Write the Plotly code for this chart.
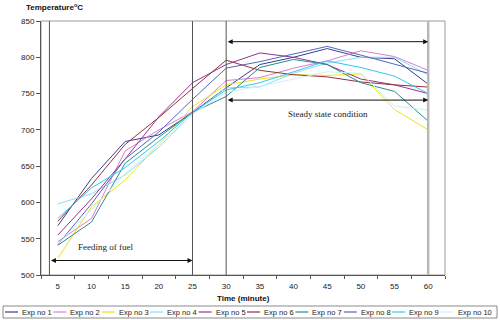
import plotly.graph_objects as go

# ---- data ----
minutes = [5, 10, 15, 20, 25, 30, 35, 40, 45, 50, 55, 60]
series_names = ["Exp no 1", "Exp no 2", "Exp no 3", "Exp no 4", "Exp no 5",
                "Exp no 6", "Exp no 7", "Exp no 8", "Exp no 9", "Exp no 10"]
exp1 = [568, 633, 684, 693, 724, 758, 790, 800, 812, 800, 798, 763]
exp2 = [546, 578, 671, 700, 725, 768, 772, 785, 795, 809, 801, 782]
exp3 = [523, 594, 631, 680, 732, 762, 770, 776, 775, 777, 728, 700]
exp4 = [598, 612, 638, 676, 722, 758, 759, 778, 792, 800, 800, 776]
exp5 = [555, 605, 660, 718, 765, 790, 806, 800, 790, 770, 762, 750]
exp6 = [574, 624, 680, 717, 757, 796, 782, 776, 773, 766, 762, 759]
exp7 = [541, 573, 654, 690, 724, 746, 786, 797, 790, 765, 753, 712]
exp8 = [542, 598, 660, 697, 742, 785, 794, 805, 815, 803, 791, 778]
exp9 = [578, 620, 648, 684, 724, 755, 765, 780, 795, 786, 774, 750]
exp10 = [543, 590, 640, 680, 722, 752, 760, 770, 780, 778, 733, 727]
all_series = [exp1, exp2, exp3, exp4, exp5, exp6, exp7, exp8, exp9, exp10]
x_tick_labels = ["5", "10", "15", "20", "25", "30", "35", "40", "45", "50", "55", "60"]
y_ticks = [500, 550, 600, 650, 700, 750, 800, 850]

# phase markers (minutes) and annotation levels (°C)
phase_lines = [3.75, 25, 30]
end_line = 60
feeding_span = (3.75, 25, 520)
steady_spans = [(30, 60, 821.5), (30, 60, 741)]

# ---- styles ----
colors = ["#34418f", "#e07ad0", "#f0e21a", "#86e2f4", "#9b2f96",
          "#9a2f3a", "#268c8c", "#5566bb", "#35c8ee", "#cdeff8"]
SANS = "Liberation Sans, Arial, sans-serif"
SERIF = "Liberation Serif, Times New Roman, serif"

fig = go.Figure()
for name, vals, col in zip(series_names, all_series, colors):
    fig.add_trace(go.Scatter(x=minutes, y=vals, mode="lines", name=name,
                             line=dict(color=col, width=1), showlegend=False))

shapes = []
# plot frame
shapes.append(dict(type="rect", xref="paper", yref="paper", x0=0, x1=1, y0=0, y1=1,
                   line=dict(color="#9a9a9a", width=1), layer="below"))
for v in phase_lines:
    shapes.append(dict(type="line", xref="x", yref="paper", x0=v, x1=v, y0=0, y1=1,
                       line=dict(color="#555555", width=1)))
shapes.append(dict(type="line", xref="x", yref="paper", x0=end_line, x1=end_line, y0=0, y1=1,
                   line=dict(color="#b8b8b8", width=2.5)))

annotations = []
for (x0, x1, yv) in [feeding_span] + steady_spans:
    annotations.append(dict(x=x1, y=yv, ax=x0, ay=yv, xref="x", yref="y", axref="x", ayref="y",
                            text="", showarrow=True, arrowhead=2, startarrowhead=2,
                            arrowside="end+start", arrowsize=1, arrowwidth=1,
                            arrowcolor="#111111", standoff=0, startstandoff=0))
annotations.append(dict(x=12.1, y=539, xref="x", yref="y", text="Feeding of fuel",
                        showarrow=False, font=dict(family=SERIF, size=9, color="#222222")))
annotations.append(dict(x=45.1, y=722, xref="x", yref="y", text="Steady state condition",
                        showarrow=False, font=dict(family=SERIF, size=9, color="#222222")))

# axis titles
PW, PL, PT, PH = 404.0, 41.0, 21.0, 254.0
def px_x(px):
    return (px - PL) / PW
def px_y(py):
    return (PT + PH - py) / PH

annotations.append(dict(x=px_x(24), y=px_y(7), xref="paper", yref="paper", xanchor="left",
                        yanchor="middle", showarrow=False,
                        text="<b>Temperature<sup>o</sup>C</b>",
                        font=dict(family=SANS, size=8, color="#111111")))
annotations.append(dict(x=0.5, y=px_y(298), xref="paper", yref="paper", xanchor="center",
                        yanchor="middle", showarrow=False, text="<b>Time (minute)</b>",
                        font=dict(family=SANS, size=8, color="#111111")))

# legend box
shapes.append(dict(type="rect", xref="paper", yref="paper", x0=px_x(3), x1=px_x(497),
                   y0=px_y(318), y1=px_y(306), line=dict(color="#8a8a8a", width=1),
                   fillcolor="white"))
for i, (name, col) in enumerate(zip(series_names, colors)):
    sx = 5 + 48.4 * i
    shapes.append(dict(type="line", xref="paper", yref="paper", x0=px_x(sx), x1=px_x(sx + 13),
                       y0=px_y(312), y1=px_y(312), line=dict(color=col, width=1.2)))
    annotations.append(dict(x=px_x(sx + 15), y=px_y(312), xref="paper", yref="paper",
                            xanchor="left", yanchor="middle", showarrow=False, text=name,
                            font=dict(family=SANS, size=7.5, color="#222222")))

fig.update_layout(
    width=500, height=320,
    margin=dict(l=41, r=55, t=21, b=45),
    paper_bgcolor="white", plot_bgcolor="white",
    shapes=shapes, annotations=annotations,
    font=dict(family=SANS, size=8, color="#222222"),
    xaxis=dict(range=[2.5, 62.5], tickmode="array", tickvals=minutes, ticktext=x_tick_labels,
               ticks="outside", ticklen=3, tickcolor="rgba(0,0,0,0)",
               showgrid=False, zeroline=False, showline=True, linecolor="#555555", linewidth=1,
               tickfont=dict(family=SANS, size=8, color="#222222"),
               minor=dict(tickmode="array", tickvals=[m - 2.5 for m in minutes] + [62.5],
                          ticks="outside", ticklen=3, tickcolor="#555555", showgrid=False)),
    yaxis=dict(range=[500, 850], tickmode="array", tickvals=y_ticks,
               ticks="outside", ticklen=4, tickcolor="#555555",
               showgrid=False, zeroline=False, showline=True, linecolor="#555555", linewidth=1,
               tickfont=dict(family=SANS, size=8, color="#222222")),
)

fig.write_html("out.html", config={"displayModeBar": False},
               post_script="document.body.style.margin='0';document.body.style.padding='0';")
